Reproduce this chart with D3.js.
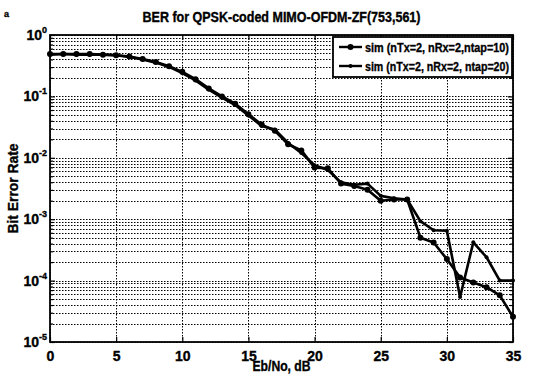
<!DOCTYPE html>
<html>
<head>
<meta charset="utf-8">
<script src="https://cdn.jsdelivr.net/npm/d3@7/dist/d3.min.js"></script>
<style>
  body { margin: 0; background: #fff; }
  svg { display: block; font-family: "Liberation Sans", Arial, sans-serif; font-weight: bold; }
  text { stroke: #000; stroke-width: 0.35; }
</style>
</head>
<body>
<svg id="chart"></svg>
<script>
const ebno = [0, 1, 2, 3, 4, 5, 6, 7, 8, 9, 10, 11, 12, 13, 14, 15, 16, 17,
  18, 19, 20, 21, 22, 23, 24, 25, 26, 27, 28, 29, 30, 31, 32, 33, 34, 35];

const berNtap10 = [0.490, 0.490, 0.490, 0.490, 0.479, 0.468, 0.447, 0.407, 0.363, 0.309,
  0.251, 0.191, 0.135, 0.100, 0.0759, 0.0513, 0.0347, 0.0275, 0.0166, 0.0132,
  0.00692, 0.00676, 0.00380, 0.00347, 0.00302, 0.00200, 0.00209, 0.00209,
  5.0e-4, 4.17e-4, 2.24e-4, 1.12e-4, 9.3e-5, 7.8e-5, 5.75e-5, 2.57e-5];

const berNtap20 = [0.479, 0.490, 0.479, 0.479, 0.479, 0.468, 0.437, 0.398, 0.355, 0.302,
  0.240, 0.182, 0.129, 0.0955, 0.0724, 0.0490, 0.0331, 0.0288, 0.0174, 0.0120,
  0.00759, 0.00631, 0.00398, 0.00363, 0.00380, 0.00240, 0.00219, 0.00209,
  9.3e-4, 6.6e-4, 6.5e-4, 5.4e-5, 4.2e-4, 2.4e-4, 1.0e-4, 1.0e-4];

const seriesNames = ['sim (nTx=2, nRx=2,ntap=10)', 'sim (nTx=2, nRx=2, ntap=20)'];

const xTicks = [0, 5, 10, 15, 20, 25, 30, 35];
const yTicks = [1e-5, 1e-4, 1e-3, 1e-2, 1e-1, 1];
const yTickExponents = ['-5', '-4', '-3', '-2', '-1', '0'];
const minorMultipliers = [2, 3, 4, 5, 6, 7, 8, 9];

const size = { width: 547, height: 377 };
const margin = { top: 35, right: 34, bottom: 35, left: 50 };
const innerWidth = size.width - margin.left - margin.right;
const innerHeight = size.height - margin.top - margin.bottom;

const svg = d3.select('#chart')
  .attr('width', size.width)
  .attr('height', size.height);

const xScale = d3.scaleLinear().domain([0, 35]).range([0, innerWidth]);
const yScale = d3.scaleLog().domain([1e-5, 1]).range([innerHeight, 0]);

const g = svg.append('g')
  .attr('transform', `translate(${margin.left}, ${margin.top})`);

// minor values for the log grid
const minorValues = [];
yTicks.slice(0, -1).forEach(decade => {
  minorMultipliers.forEach(m => minorValues.push(decade * m));
});

// dotted grid
const grid = g.append('g').attr('class', 'grid')
  .attr('stroke', '#000')
  .attr('stroke-width', 1)
  .attr('stroke-dasharray', '1.5,1.5');

grid.selectAll('.hgrid')
  .data(yTicks.concat(minorValues))
  .enter()
  .append('line')
  .attr('x1', 0)
  .attr('x2', innerWidth)
  .attr('y1', d => Math.round(yScale(d)) + 0.5)
  .attr('y2', d => Math.round(yScale(d)) + 0.5);

grid.selectAll('.vgrid')
  .data(xTicks)
  .enter()
  .append('line')
  .attr('x1', d => Math.round(xScale(d)) + 0.5)
  .attr('x2', d => Math.round(xScale(d)) + 0.5)
  .attr('y1', 0)
  .attr('y2', innerHeight);

// axes with inward ticks
const xAxis = g.append('g')
  .attr('transform', `translate(0, ${innerHeight})`)
  .call(d3.axisBottom(xScale).tickValues(xTicks).tickSize(-5).tickPadding(9));

g.append('g')
  .call(d3.axisTop(xScale).tickValues(xTicks).tickSize(-5).tickFormat(''));

g.append('g')
  .call(d3.axisLeft(yScale).tickValues(yTicks).tickSize(-5).tickFormat(''));

g.append('g')
  .call(d3.axisLeft(yScale).tickValues(minorValues).tickSize(-3).tickFormat(''));

g.append('g')
  .attr('transform', `translate(${innerWidth}, 0)`)
  .call(d3.axisRight(yScale).tickValues(yTicks).tickSize(-5).tickFormat(''));

g.append('g')
  .attr('transform', `translate(${innerWidth}, 0)`)
  .call(d3.axisRight(yScale).tickValues(minorValues).tickSize(-3).tickFormat(''));

g.selectAll('.domain').remove();
g.selectAll('.tick line').attr('stroke', '#000').attr('stroke-width', 1.2);

xAxis.selectAll('text')
  .attr('font-size', 14)
  .attr('font-weight', 'bold')
  .attr('fill', '#000')
  .attr('font-family', '"Liberation Sans", Arial, sans-serif');

// y tick labels as 10 with superscript
const yLabels = g.append('g').attr('class', 'ylabels');
yTicks.forEach((v, i) => {
  const t = yLabels.append('text')
    .attr('x', -3)
    .attr('y', yScale(v) + 5)
    .attr('text-anchor', 'end')
    .attr('font-size', 14)
    .attr('fill', '#000');
  t.append('tspan').text('10');
  t.append('tspan')
    .attr('dy', -7)
    .attr('font-size', 9)
    .text(yTickExponents[i]);
});

// axis box
g.append('rect')
  .attr('x', 0)
  .attr('y', 0)
  .attr('width', innerWidth)
  .attr('height', innerHeight)
  .attr('fill', 'none')
  .attr('stroke', '#000')
  .attr('stroke-width', 1.8);

// series
const series = [
  { name: seriesNames[0], values: berNtap10, r: 3 },
  { name: seriesNames[1], values: berNtap20, r: 2 }
];

const line = d3.line()
  .x((d, i) => xScale(ebno[i]))
  .y(d => yScale(d));

series.forEach(s => {
  g.append('path')
    .datum(s.values)
    .attr('fill', 'none')
    .attr('stroke', '#000')
    .attr('stroke-width', 2.6)
    .attr('stroke-linejoin', 'round')
    .attr('d', line);

  g.selectAll(null)
    .data(s.values)
    .enter()
    .append('circle')
    .attr('cx', (d, i) => xScale(ebno[i]))
    .attr('cy', d => yScale(d))
    .attr('r', s.r)
    .attr('fill', '#000');
});

// legend
const legend = g.append('g')
  .attr('transform', `translate(${innerWidth - 180}, 2)`);

legend.append('rect')
  .attr('width', 179)
  .attr('height', 40)
  .attr('fill', '#fff')
  .attr('stroke', '#000')
  .attr('stroke-width', 1.8);

series.forEach((s, i) => {
  const row = legend.append('g')
    .attr('transform', `translate(0, ${10 + i * 19})`);
  row.append('line')
    .attr('x1', 6)
    .attr('x2', 29)
    .attr('stroke', '#000')
    .attr('stroke-width', 2.4);
  row.append('circle')
    .attr('cx', 17.5)
    .attr('r', s.r)
    .attr('fill', '#000');
  row.append('text')
    .attr('x', 32)
    .attr('y', 5)
    .attr('font-size', 13)
    .attr('textLength', 144)
    .attr('lengthAdjust', 'spacingAndGlyphs')
    .attr('fill', '#000')
    .text(s.name);
});

// titles
svg.append('text')
  .attr('x', margin.left + innerWidth / 2)
  .attr('y', 22)
  .attr('text-anchor', 'middle')
  .attr('font-size', 14)
  .attr('textLength', 278)
  .attr('lengthAdjust', 'spacingAndGlyphs')
  .text('BER for QPSK-coded MIMO-OFDM-ZF(753,561)');

svg.append('text')
  .attr('x', margin.left + innerWidth / 2)
  .attr('y', 371)
  .attr('text-anchor', 'middle')
  .attr('font-size', 14)
  .attr('textLength', 58)
  .attr('lengthAdjust', 'spacingAndGlyphs')
  .text('Eb/No, dB');

svg.append('text')
  .attr('transform', `translate(18, ${margin.top + innerHeight / 2}) rotate(-90)`)
  .attr('text-anchor', 'middle')
  .attr('font-size', 14)
  .attr('textLength', 90)
  .attr('lengthAdjust', 'spacingAndGlyphs')
  .text('Bit Error Rate');

svg.append('text')
  .attr('x', 4)
  .attr('y', 17)
  .attr('font-size', 9)
  .text('a');
</script>
</body>
</html>
